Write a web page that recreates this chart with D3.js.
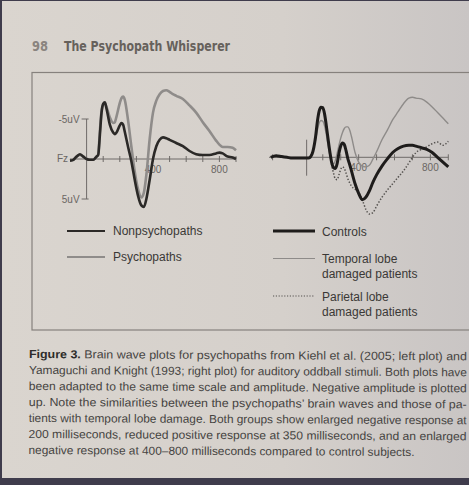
<!DOCTYPE html>
<html>
<head>
<meta charset="utf-8">
<script src="https://cdn.jsdelivr.net/npm/d3@7"></script>
<style>
  html, body { margin: 0; padding: 0; background: #3f3c4c; }
  svg { display: block; }
</style>
</head>
<body>
<div id="page"></div>
<script>
// ---- données ----

// graphique de gauche (Kiehl et al. 2005), temps en ms, amplitude en uV (négatif en haut)
const leftTime = [-100, -80, -60, -40, -20, 0, 20, 40, 60, 70, 80, 90, 100, 110, 120, 140, 160, 170, 180, 200, 210, 220, 230, 250, 270, 290, 310, 330, 345, 360, 380, 400, 420, 440, 460, 480, 500, 520, 540, 580, 620, 660, 700, 740, 780, 800, 820, 850, 880, 900];
const nonPsychopaths = [0.2, 0.1, -0.3, -0.6, -0.3, 0, 0.1, 0.1, -0.3, -0.5, -3.0, -5.8, -6.9, -7.1, -6.3, -4.3, -3.3, -3.1, -3.3, -4.2, -4.5, -4.3, -3.4, -1.5, 0.3, 2.6, 4.6, 5.8, 6.0, 5.0, 2.6, 0, -1.6, -2.4, -2.7, -2.6, -2.4, -2.2, -2.0, -1.6, -1.0, -0.6, -0.5, -0.5, -0.7, -0.8, -0.7, -0.3, -0.2, 0];
const psychopaths = [0.2, 0.1, -0.3, -0.5, -0.3, 0, 0.1, 0.1, -0.3, -0.6, -3.5, -6.0, -6.8, -7.0, -6.5, -5.2, -4.5, -4.6, -5.3, -7.0, -7.6, -7.8, -7.4, -4.8, -1.5, 1.6, 3.8, 4.8, 4.2, 2.0, -2.5, -5.8, -7.3, -8.1, -8.5, -8.6, -8.4, -8.1, -7.9, -7.5, -6.7, -5.8, -4.6, -3.5, -2.3, -1.8, -1.5, -1.5, -1.4, -1.1];
const leftTicks = [100, 200, 300, 400, 500, 600, 700, 800, 900];
const leftTickLabels = [400, 800];

// graphique de droite (Yamaguchi & Knight 1993)
const rightTime = [-90, -60, -30, 0, 30, 60, 90, 120, 140, 160, 170, 180, 190, 200, 210, 220, 230, 240, 250, 260, 270, 280, 290, 300, 310, 320, 330, 340, 350, 360, 380, 400, 420, 440, 460, 480, 500, 530, 560, 590, 620, 650, 680, 700, 720, 750, 780, 810, 840, 870, 900];
const controls = [0, -0.2, -0.1, 0, 0.1, 0.1, 0.1, 0.1, -0.4, -2.6, -4.5, -5.8, -6.25, -6.2, -5.4, -3.9, -2.2, -0.6, 0.7, 1.3, 1.4, 0.8, -0.5, -1.4, -1.8, -1.6, -0.8, 0.2, 0.9, 1.7, 3.3, 4.5, 5.3, 5.0, 4.2, 3.1, 2.2, 1.1, 0.2, -0.6, -1.1, -1.4, -1.5, -1.5, -1.4, -1.2, -1.0, -0.6, 0, 0.6, 1.2];
const temporalLobe = [0, -0.2, -0.1, 0, 0.1, 0.1, 0.1, 0.1, -0.4, -2.2, -3.4, -4.3, -4.6, -4.5, -3.9, -2.8, -1.4, -0.2, 0.6, 0.8, 0.4, -0.5, -1.5, -2.4, -3.1, -3.6, -3.8, -3.8, -3.4, -2.6, -0.6, 0.6, 1.1, 1.2, 1.0, 0.2, -0.7, -2.2, -3.4, -4.7, -5.7, -6.7, -7.4, -7.5, -7.4, -7.3, -6.9, -6.3, -5.6, -4.9, -4.2];
const parietalLobe = [0, -0.2, -0.1, 0, 0.1, 0.1, 0.1, 0.1, -0.4, -2.6, -4.5, -5.8, -6.25, -6.2, -5.4, -3.9, -2.2, -0.5, 1.0, 2.0, 2.7, 2.8, 2.2, 1.5, 1.2, 1.4, 2.0, 2.7, 3.2, 3.6, 4.0, 4.4, 5.3, 6.5, 7.1, 6.9, 6.1, 5.0, 4.1, 3.3, 2.5, 1.7, 0.7, 0, -0.6, -1.0, -1.3, -1.7, -1.9, -1.5, -2.0];
const rightTicks = [-80, 200, 300, 400, 500, 600, 700, 800, 900];
const rightTickLabels = [400, 800];

// légendes
const legendLeft = ["Nonpsychopaths", "Psychopaths"];
const legendRight = [["Controls"], ["Temporal lobe", "damaged patients"], ["Parietal lobe", "damaged patients"]];

// titraille et légende de la figure
const pageNumber = "98";
const runningHead = "The Psychopath Whisperer";
const captionLines = [
  "Brain wave plots for psychopaths from Kiehl et al. (2005; left plot) and",
  "Yamaguchi and Knight (1993; right plot) for auditory oddball stimuli. Both plots have",
  "been adapted to the same time scale and amplitude. Negative amplitude is plotted",
  "up. Note the similarities between the psychopaths’ brain waves and those of pa-",
  "tients with temporal lobe damage. Both groups show enlarged negative response at",
  "200 milliseconds, reduced positive response at 350 milliseconds, and an enlarged",
  "negative response at 400–800 milliseconds compared to control subjects."
];

//---------------------------------------------------------------------------------------

const width = 469;
const height = 485;

const svg = d3.select("#page")
  .append("svg")
  .attr("width", width)
  .attr("height", height);

// fond de page (photo) : léger dégradé
const defs = svg.append("defs");
const grad = defs.append("linearGradient").attr("id", "paper").attr("x1", 0).attr("x2", 1).attr("y1", 0).attr("y2", 0);
grad.append("stop").attr("offset", "0%").attr("stop-color", "#dad5cf");
grad.append("stop").attr("offset", "60%").attr("stop-color", "#d5d0cb");
grad.append("stop").attr("offset", "100%").attr("stop-color", "#c9c5c4");

svg.append("rect").attr("width", width).attr("height", height).attr("fill", "#3f3c4c");
svg.append("rect").attr("x", 2).attr("y", 1).attr("width", width - 2).attr("height", 477).attr("fill", "url(#paper)");

// en-tête
svg.append("text")
  .attr("x", 32).attr("y", 50.5)
  .attr("font-family", "DejaVu Sans")
  .attr("font-weight", "bold")
  .attr("font-size", 14)
  .attr("fill", "#8a847f")
  .attr("textLength", 16).attr("lengthAdjust", "spacingAndGlyphs")
  .text(pageNumber);

svg.append("text")
  .attr("x", 64).attr("y", 50.5)
  .attr("font-family", "DejaVu Sans")
  .attr("font-weight", "bold")
  .attr("font-size", 14.5)
  .attr("fill", "#66615c")
  .attr("textLength", 166).attr("lengthAdjust", "spacingAndGlyphs")
  .text(runningHead);

// cadre de la figure
svg.append("rect")
  .attr("x", 32).attr("y", 72.5)
  .attr("width", 470).attr("height", 257.5)
  .attr("fill", "none")
  .attr("stroke", "#86817d")
  .attr("stroke-width", 1.2);

//---------------------------------------------------------------------------------------

// échelles
const xL = d3.scaleLinear().domain([-100, 900]).range([70, 236]);
const yL = d3.scaleLinear().domain([-5, 5]).range([119, 199]);
const xR = d3.scaleLinear().domain([-100, 900]).range([269, 448.3]);
const yR = d3.scaleLinear().domain([-5, 5]).range([117.3, 197.3]);

const axisColor = "#6f6b68";
const labelFont = "Liberation Sans, Arial, sans-serif";

// ---- graphique de gauche ----
const gL = svg.append("g");

gL.append("line")
  .attr("x1", xL(-100)).attr("x2", xL(900))
  .attr("y1", yL(0)).attr("y2", yL(0))
  .attr("stroke", axisColor).attr("stroke-width", 1);

gL.selectAll(".tickL")
  .data(leftTicks)
  .join("line")
  .attr("x1", d => xL(d)).attr("x2", d => xL(d))
  .attr("y1", yL(0) - 3).attr("y2", yL(0) + 3)
  .attr("stroke", axisColor).attr("stroke-width", 1);

// barre d'échelle verticale
gL.append("line")
  .attr("x1", xL(0)).attr("x2", xL(0))
  .attr("y1", yL(-5)).attr("y2", yL(5))
  .attr("stroke", axisColor).attr("stroke-width", 1);

gL.selectAll(".uvTick")
  .data([-5, 5])
  .join("line")
  .attr("x1", xL(0) - 5).attr("x2", xL(0) + 2)
  .attr("y1", d => yL(d)).attr("y2", d => yL(d))
  .attr("stroke", axisColor);

gL.selectAll(".uvLabel")
  .data([-5, 5])
  .join("text")
  .attr("x", xL(0) - 7)
  .attr("y", d => yL(d) + 3.5)
  .attr("text-anchor", "end")
  .attr("font-family", labelFont).attr("font-size", 10)
  .attr("fill", "#6a6663")
  .text(d => `${d}uV`);

gL.append("text")
  .attr("x", xL(-100) - 2).attr("y", yL(0) + 3)
  .attr("text-anchor", "end")
  .attr("font-family", labelFont).attr("font-size", 10)
  .attr("fill", "#6a6663")
  .text("Fz");

gL.selectAll(".tickLabelL")
  .data(leftTickLabels)
  .join("text")
  .attr("x", d => xL(d)).attr("y", yL(0) + 14)
  .attr("text-anchor", "middle")
  .attr("font-family", labelFont).attr("font-size", 10)
  .attr("fill", "#6a6663")
  .text(d => d);

const lineL = d3.line()
  .x((d, i) => xL(leftTime[i]))
  .y(d => yL(d))
  .curve(d3.curveMonotoneX);

gL.append("path")
  .datum(psychopaths)
  .attr("d", lineL)
  .attr("fill", "none")
  .attr("stroke", "#8f8c8a")
  .attr("stroke-width", 2.6)
  .attr("stroke-linejoin", "round");

gL.append("path")
  .datum(nonPsychopaths)
  .attr("d", lineL)
  .attr("fill", "none")
  .attr("stroke", "#2b2927")
  .attr("stroke-width", 2.6)
  .attr("stroke-linejoin", "round");

// ---- graphique de droite ----
const gR = svg.append("g");

gR.append("line")
  .attr("x1", xR(-100)).attr("x2", xR(900))
  .attr("y1", yR(0)).attr("y2", yR(0))
  .attr("stroke", axisColor).attr("stroke-width", 1);

gR.selectAll(".tickR")
  .data(rightTicks)
  .join("line")
  .attr("x1", d => xR(d)).attr("x2", d => xR(d))
  .attr("y1", yR(0) - 3).attr("y2", yR(0) + 3)
  .attr("stroke", axisColor).attr("stroke-width", 1);

gR.append("line")
  .attr("x1", xR(110)).attr("x2", xR(110))
  .attr("y1", yR(-2.2)).attr("y2", yR(2.3))
  .attr("stroke", axisColor).attr("stroke-width", 1);

gR.selectAll(".tickLabelR")
  .data(rightTickLabels)
  .join("text")
  .attr("x", d => xR(d)).attr("y", yR(0) + 14)
  .attr("text-anchor", "middle")
  .attr("font-family", labelFont).attr("font-size", 10)
  .attr("fill", "#6a6663")
  .text(d => d);

const lineR = d3.line()
  .x((d, i) => xR(rightTime[i]))
  .y(d => yR(d))
  .curve(d3.curveMonotoneX);

gR.append("path")
  .datum(temporalLobe)
  .attr("d", lineR)
  .attr("fill", "none")
  .attr("stroke", "#8e8b89")
  .attr("stroke-width", 1.4);

gR.append("path")
  .datum(parietalLobe)
  .attr("d", lineR)
  .attr("fill", "none")
  .attr("stroke", "#55524f")
  .attr("stroke-width", 1.5)
  .attr("stroke-dasharray", "1.4,1.8");

gR.append("path")
  .datum(controls)
  .attr("d", lineR)
  .attr("fill", "none")
  .attr("stroke", "#1e1c1b")
  .attr("stroke-width", 3)
  .attr("stroke-linejoin", "round");

//---------------------------------------------------------------------------------------

// légende gauche
const legL = svg.append("g")
  .selectAll("g")
  .data(legendLeft)
  .join("g")
  .attr("transform", (d, i) => `translate(0, ${231 + i * 26})`);

legL.append("line")
  .attr("x1", 67).attr("x2", 105)
  .attr("stroke", (d, i) => i === 0 ? "#2b2927" : "#8f8c8a")
  .attr("stroke-width", 2);

legL.append("text")
  .attr("x", 113).attr("y", 4)
  .attr("font-family", labelFont).attr("font-size", 12)
  .attr("fill", "#3a3836")
  .text(d => d);

// légende droite
const legRStyles = [
  { col: "#1e1c1b", w: 3.2, dash: null },
  { col: "#8e8b89", w: 1.2, dash: null },
  { col: "#55524f", w: 1.2, dash: "1.2,1.6" }
];
const legR = svg.append("g")
  .selectAll("g")
  .data(legendRight)
  .join("g")
  .attr("transform", (d, i) => `translate(0, ${[231, 258.5, 296][i]})`);

legR.append("line")
  .attr("x1", 273).attr("x2", 315)
  .attr("stroke", (d, i) => legRStyles[i].col)
  .attr("stroke-width", (d, i) => legRStyles[i].w)
  .attr("stroke-dasharray", (d, i) => legRStyles[i].dash);

legR.append("text")
  .attr("font-family", labelFont).attr("font-size", 12)
  .attr("fill", "#3a3836")
  .selectAll("tspan")
  .data(d => d)
  .join("tspan")
  .attr("x", 322)
  .attr("y", (d, i) => 4.5 + i * 15)
  .text(d => d);

//---------------------------------------------------------------------------------------

// légende de la figure
const cap = svg.append("g").attr("transform", "rotate(0.3, 29, 354)");
captionLines.forEach((line, i) => {
  const t = cap.append("text")
    .attr("x", 29)
    .attr("y", 358 + i * 16)
    .attr("font-family", labelFont)
    .attr("font-size", 11.6)
    .attr("fill", "#454341")
    .attr("textLength", i < captionLines.length - 1 ? 438 : 386)
    .attr("lengthAdjust", "spacingAndGlyphs");
  if (i === 0) {
    t.append("tspan").attr("font-weight", "bold").attr("fill", "#2e2c2a").text("Figure 3. ");
  }
  t.append("tspan").text(line);
});
</script>
</body>
</html>
